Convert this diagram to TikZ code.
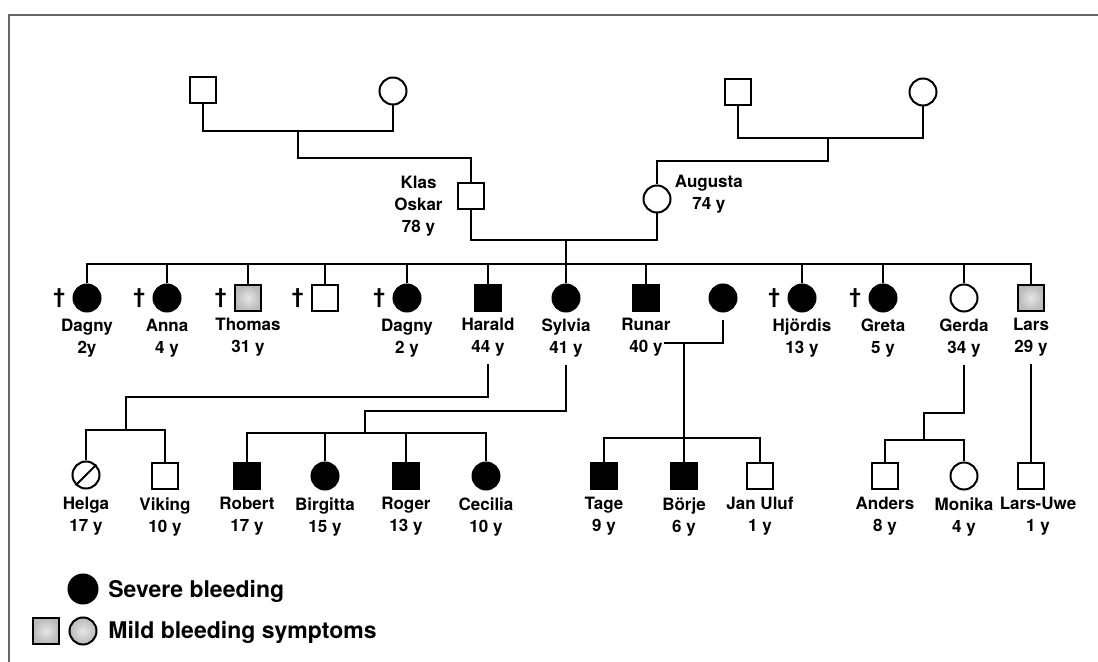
\documentclass[tikz,border=0pt]{standalone}
\usepackage{fontspec}
\setmainfont{TeX Gyre Heros}
\usetikzlibrary{positioning}

\tikzset{
  male/.style={draw, rectangle, minimum size=13pt, inner sep=0pt, line width=1pt},
  female/.style={draw, circle, minimum size=13.5pt, inner sep=0pt, line width=1pt},
  severe/.style={fill=black},
  mild/.style={inner color=gray!20, outer color=gray!55},
  link/.style={line width=1.3pt},
  lbl/.style={inner sep=0pt, align=center, font=\fontsize{8.5}{11}\selectfont\bfseries},
  dag/.style={inner sep=0pt, font=\fontsize{10.5}{10}\selectfont\bfseries},
  keytext/.style={inner sep=0pt, anchor=base west, font=\fontsize{11.5}{13}\selectfont\bfseries}
}

\begin{document}
\begin{tikzpicture}[x=0.5pt,y=-0.5pt]
  \useasboundingbox (0,0) rectangle (1098,662);
  % frame
  \draw[black!60, line width=1.1pt] (9,662) -- (9,15) -- (1098,15);

  % generation I
  \node[male]   (gfa) at (203,90) {};
  \node[female] (gma) at (393,91) {};
  \node[male]   (gfb) at (738,92) {};
  \node[female] (gmb) at (923,92) {};

  % generation II
  \node[male]   (klas)    at (471,196) {};
  \node[female] (augusta) at (657,199) {};
  \node[lbl, left=7pt of klas, yshift=-5pt] (klas-l) {Klas\\Oskar\\78 y};
  \node[lbl, right=1.5pt of augusta, yshift=2.5pt] (augusta-l) {Augusta\\74 y};

  \coordinate (ma) at (298,131);
  \coordinate (da) at (298,158);
  \coordinate (mb) at (828,138);
  \coordinate (db) at (828,161);
  \draw[link] (gfa) |- (ma) -| (gma);
  \draw[link] (ma) -- (da) -| (klas);
  \draw[link] (gfb) |- (mb) -| (gmb);
  \draw[link] (mb) -- (db) -| (augusta);

  % children of Klas Oskar and Augusta
  \node[female, severe] (dagnyA)  at (87,298) {};
  \node[female, severe] (anna)    at (167,298) {};
  \node[male, mild]     (thomas)  at (248,298) {};
  \node[male]           (brother) at (325,298) {};
  \node[female, severe] (dagnyB)  at (407,298) {};
  \node[male, severe]   (harald)  at (488,298) {};
  \node[female, severe] (sylvia)  at (566,298) {};
  \node[male, severe]   (runar)   at (646,298) {};
  \node[female, severe] (runarw)  at (723,298) {};
  \node[female, severe] (hjordis) at (802,298) {};
  \node[female, severe] (greta)   at (883,298) {};
  \node[female]         (gerda)   at (964,298) {};
  \node[male, mild]     (lars)    at (1031,298) {};

  \foreach \n/\t in {dagnyA/{Dagny\\2y}, anna/{Anna\\4 y}, thomas/{Thomas\\31 y},
      dagnyB/{Dagny\\2 y}, harald/{Harald\\44 y}, sylvia/{Sylvia\\41 y},
      runar/{Runar\\40 y}, hjordis/{Hjördis\\13 y}, greta/{Greta\\5 y},
      gerda/{Gerda\\34 y}, lars/{Lars\\29 y}}
    \node[lbl, below=3pt of \n] (\n-l) {\t};
  \foreach \n in {dagnyA, anna, thomas, brother, dagnyB, hjordis, greta}
    \node[dag, left=3.5pt of \n] (\n-d) {†};

  \coordinate (mc) at (566,240);
  \coordinate (sib) at (566,264);
  \draw[link] (klas) |- (mc) -| (augusta);
  \draw[link] (mc) -- (sylvia);
  \draw[link] (dagnyA) |- (sib) -| (lars);
  \foreach \n in {anna, thomas, brother, dagnyB, harald, runar, hjordis, greta, gerda}
    \draw[link] (\n) -- (\n |- sib);

  % Runar's marriage
  \coordinate (rl) at (664,343);
  \coordinate (mr) at (684,343);
  \draw[link, shorten >=4pt] (rl) -| (runarw);

  % generation III
  \node[female]         (helga)    at (86,475) {};
  \node[male]           (viking)   at (165,476) {};
  \node[male, severe]   (robert)   at (247,476) {};
  \node[female, severe] (birgitta) at (325,476) {};
  \node[male, severe]   (roger)    at (406,476) {};
  \node[female, severe] (cecilia)  at (486,476) {};
  \node[male, severe]   (tage)     at (604,476) {};
  \node[male, severe]   (borje)    at (684,476) {};
  \node[male]           (janu)     at (760,476) {};
  \node[male]           (anders)   at (885,476) {};
  \node[female]         (monika)   at (964,476) {};
  \node[male]           (larsuwe)  at (1031,476) {};
  \draw[line width=1pt] (helga.225) -- (helga.45);

  \foreach \n/\t in {helga/{Helga\\17 y}, viking/{Viking\\10 y}, robert/{Robert\\17 y},
      birgitta/{Birgitta\\15 y}, roger/{Roger\\13 y}, cecilia/{Cecilia\\10 y},
      tage/{Tage\\9 y}, borje/{Börje\\6 y}, janu/{Jan Uluf\\1 y},
      anders/{Anders\\8 y}, monika/{Monika\\4 y}}
    \node[lbl, below=3.5pt of \n] (\n-l) {\t};
  \node[lbl, below=3.5pt of larsuwe, xshift=3.5pt] (larsuwe-l) {Lars-Uwe\\1 y};

  \coordinate (ha) at (126,397);
  \coordinate (hb) at (126,430);
  \draw[link, shorten <=3.5pt] (harald-l) |- (ha) -- (hb);
  \draw[link] (helga) |- (hb) -| (viking);

  \coordinate (sa) at (365,411);
  \coordinate (sb) at (365,433);
  \draw[link, shorten <=3.5pt] (sylvia-l) |- (sa) -- (sb);
  \draw[link] (robert) |- (sb) -| (cecilia);
  \foreach \n in {birgitta, roger}
    \draw[link] (\n) -- (\n |- sb);

  \coordinate (rb) at (684,438);
  \draw[link] (mr) -- (borje);
  \draw[link] (tage) |- (rb) -| (janu);

  \coordinate (ga) at (924,413);
  \coordinate (gb) at (924,440);
  \draw[link, shorten <=3.5pt] (gerda-l) |- (ga) -- (gb);
  \draw[link] (anders) |- (gb) -| (monika);
  \draw[link, shorten <=3.5pt] (lars-l) -- (larsuwe);

  % key
  \node[female, severe, minimum size=14.5pt] (keysev) at (83,589) {};
  \node[male, mild]   (keymm) at (46,631) {};
  \node[female, mild] (keymf) at (83,631) {};
  \node[keytext] (keysev-t)  at (108,597) {Severe bleeding};
  \node[keytext] (keymild-t) at (108,638) {Mild bleeding symptoms};
\end{tikzpicture}
\end{document}
